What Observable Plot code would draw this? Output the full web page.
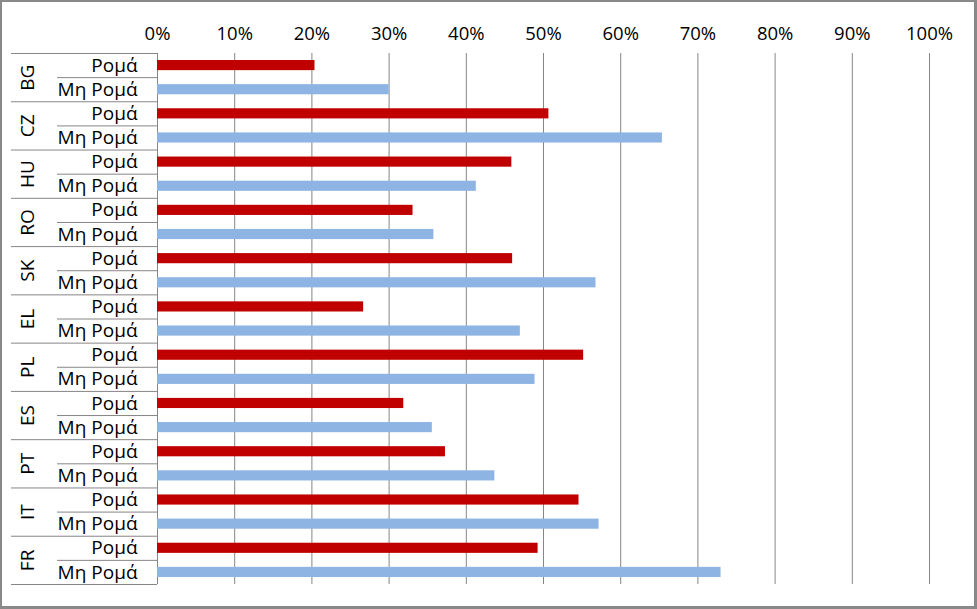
<!DOCTYPE html>
<html>
<head>
<meta charset="utf-8">
<script src="https://cdn.jsdelivr.net/npm/d3@7"></script>
<script src="https://cdn.jsdelivr.net/npm/@observablehq/plot@0.6"></script>
<style>
  html, body { margin: 0; padding: 0; background: #fff; }
  #wrap { position: relative; width: 977px; height: 609px; overflow: hidden; }
  #border { position: absolute; left: 0; top: 0; width: 977px; height: 609px; box-sizing: border-box;
            border-style: solid; border-color: #898989; border-width: 2px 3px 3px 2px; pointer-events: none; }
</style>
</head>
<body>
<div id="wrap"><div id="border"></div></div>
<script>
const countries = ["BG", "CZ", "HU", "RO", "SK", "EL", "PL", "ES", "PT", "IT", "FR"];
const groups = ["Ρομά", "Μη Ρομά"];
const romaValues = [20.4, 50.7, 45.9, 33.1, 46.0, 26.7, 55.2, 31.9, 37.3, 54.6, 49.3];
const nonRomaValues = [30.0, 65.4, 41.3, 35.8, 56.8, 47.0, 48.9, 35.6, 43.7, 57.2, 73.0];
const xTicks = [0, 10, 20, 30, 40, 50, 60, 70, 80, 90, 100];

const colors = {"Ρομά": "#C00000", "Μη Ρομά": "#8EB4E3"};
const rows = countries.flatMap((c, i) => [
  {country: c, group: groups[0], row: 2 * i, value: romaValues[i]},
  {country: c, group: groups[1], row: 2 * i + 1, value: nonRomaValues[i]}
]);
const nRows = rows.length;

const W = 977, H = 609;
const mL = 157, mR = 48, mT = 53, mB = 25;
const pxToX = px => (px - mL) / (W - mL - mR) * 100;
const font = "'Open Sans', 'DejaVu Sans', sans-serif";
const grid = "#868686";

const chart = Plot.plot({
  width: W,
  height: H,
  marginLeft: mL,
  marginRight: mR,
  marginTop: mT,
  marginBottom: mB,
  style: {fontFamily: font, background: "transparent", color: "#000"},
  x: {domain: [0, 100], axis: null},
  y: {domain: [0, nRows], reverse: true, axis: null},
  marks: [
    Plot.ruleX(xTicks, {x: d => d, stroke: grid, strokeWidth: 1}),
    Plot.rect(rows, {x1: 0, x2: "value", y1: "row", y2: d => d.row + 1, insetTop: 7, insetBottom: 7, fill: d => colors[d.group]}),
    Plot.ruleY(rows, {y: "row", x1: d => d.group === groups[0] ? pxToX(11) : pxToX(57), x2: 0, stroke: grid}),
    Plot.ruleY([nRows], {y: d => d, x1: pxToX(11), x2: 0, stroke: grid}),
    Plot.text(xTicks, {x: d => d, frameAnchor: "top", dy: -27, text: d => d + "%", fontSize: 18.5, fill: "#000"}),
    Plot.text(rows, {y: d => d.row + 0.5, frameAnchor: "left", dx: -20, textAnchor: "end", text: "group", fontSize: 19, fill: "#000"}),
    Plot.text(countries, {y: (d, i) => 2 * i + 1, frameAnchor: "left", dx: -130, rotate: -90, textAnchor: "middle", text: d => d, fontSize: 19, fill: "#000"})
  ]
});
document.getElementById("wrap").prepend(chart);
</script>
</body>
</html>
